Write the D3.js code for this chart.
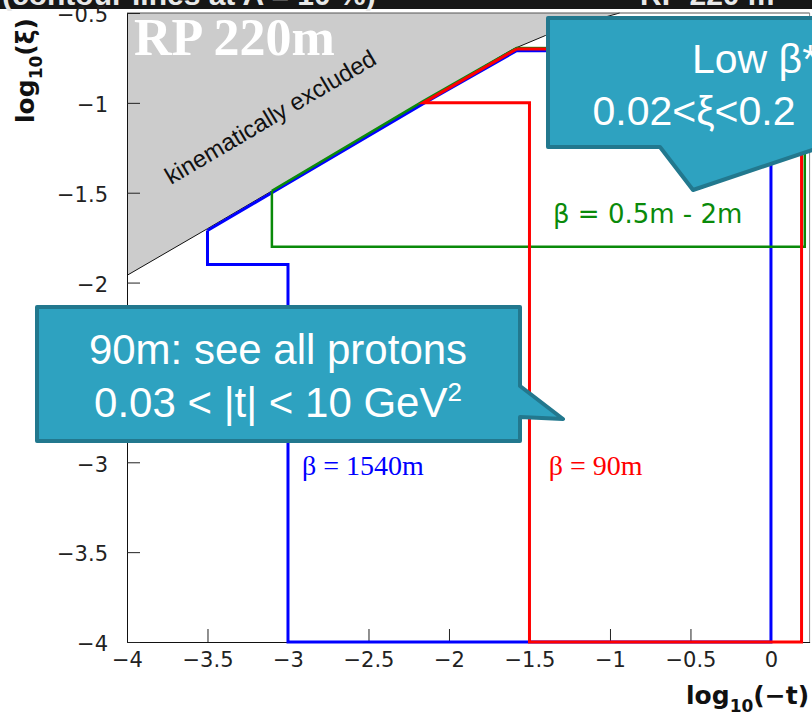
<!DOCTYPE html>
<html>
<head>
<meta charset="utf-8">
<script src="https://cdn.jsdelivr.net/npm/d3@7"></script>
<style>
  html, body { margin: 0; padding: 0; background: #fff; }
  svg { display: block; }
</style>
</head>
<body>
<svg id="chart" width="812" height="718"></svg>
<script>
// ---------- data (log10(-t) [GeV^2], log10(xi)) ----------
const xMajorTicks = [-4, -3.5, -3, -2.5, -2, -1.5, -1, -0.5, 0];
const yMajorTicks = [-4, -3.5, -3, -2.5, -2, -1.5, -1, -0.5];

// edge of the kinematically allowed region
const kinematicLimit = [[-4, -1.96], [-3.5, -1.70], [-3.1, -1.49], [-2.6, -1.23], [-2.16, -0.995],
                        [-1.6, -0.70], [-1.4, -0.625], [-1.2, -0.565], [-0.94, -0.5]];

// acceptance contours (10 %) for the three optics
const contourBeta1540 = [[-3.5, -1.71], [-3.5, -1.9], [-3.0, -1.9], [-3.0, -4.0], [0.0, -4.0],
                         [0.0, -0.71], [-1.58, -0.71], [-2.16, -1.005], [-3.1, -1.50], [-3.5, -1.71]];
const contourBeta90   = [[-1.58, -0.70], [0.19, -0.70], [0.19, -4.0], [-1.5, -4.0], [-1.5, -1.0],
                         [-2.16, -1.0], [-1.58, -0.70]];
const contourBetaLow  = [[-3.1, -1.49], [-3.1, -1.8], [0.21, -1.8], [0.21, -0.70], [-1.58, -0.695],
                         [-2.16, -0.99], [-3.1, -1.49]];

const contours = [
  { name: "beta1540", points: contourBeta1540, color: "#0000ff", width: 3 },
  { name: "betaLow",  points: contourBetaLow,  color: "#0a8a0a", width: 2.5 },
  { name: "beta90",   points: contourBeta90,   color: "#ff0000", width: 3 }
];

// ---------- layout ----------
const svg = d3.select("#chart");
const x = d3.scaleLinear().domain([-4, 0.24]).range([127, 809.6]);
const y = d3.scaleLinear().domain([-4, -0.5]).range([642, 13]);
const line = d3.line().x(d => x(d[0])).y(d => y(d[1]));

svg.append("rect").attr("width", 812).attr("height", 718).attr("fill", "#fff");

// header strip of the slide, cut at the top edge
svg.append("rect").attr("x", 0).attr("y", 0).attr("width", 812).attr("height", 9).attr("fill", "#161616");
svg.append("text").attr("x", 2).attr("y", 5)
  .attr("font-family", "Liberation Sans, Arial, sans-serif").attr("font-weight", "bold")
  .attr("font-size", 30).attr("fill", "#e8e8e8")
  .text("(contour lines at A = 10 %)");
svg.append("text").attr("x", 640).attr("y", 5)
  .attr("font-family", "Liberation Sans, Arial, sans-serif").attr("font-weight", "bold")
  .attr("font-size", 30).attr("fill", "#e8e8e8")
  .text("RP 220 m");

// kinematically excluded area
const excluded = kinematicLimit.concat([[-4, -0.5]]);
svg.append("path")
  .attr("d", line(excluded) + "Z")
  .attr("fill", "#cccccc").attr("stroke", "none");
svg.append("path")
  .attr("d", line(kinematicLimit))
  .attr("fill", "none").attr("stroke", "#111").attr("stroke-width", 1);

svg.append("text")
  .attr("transform", "translate(171,185) rotate(-30.5)")
  .attr("font-family", "Liberation Sans, Arial, sans-serif")
  .attr("font-size", 24).attr("fill", "#111")
  .text("kinematically excluded");

svg.append("text").attr("x", 134).attr("y", 55)
  .attr("font-family", "Liberation Serif, Times New Roman, serif")
  .attr("font-weight", "bold")
  .attr("font-size", 52).attr("fill", "#ffffff")
  .text("RP 220m");

// frame (top and right)
svg.append("line").attr("x1", x(-4)).attr("x2", x(0.24)).attr("y1", y(-0.5)).attr("y2", y(-0.5))
  .attr("stroke", "#555").attr("stroke-width", 1);
svg.append("line").attr("x1", x(0.24)).attr("x2", x(0.24)).attr("y1", y(-0.5)).attr("y2", y(-4))
  .attr("stroke", "#888").attr("stroke-width", 1);

// axes
const tickFont = "DejaVu Sans, Verdana, sans-serif";
const fmt = d3.format("");

const gx = svg.append("g").attr("transform", `translate(0,${y(-4)})`);
gx.call(d3.axisBottom(x).tickValues(d3.range(-40, 3).map(v => v / 10)).tickSizeInner(-7).tickSizeOuter(0).tickFormat(""));
gx.call(d3.axisBottom(x).tickValues(xMajorTicks).tickSizeInner(-13).tickSizeOuter(0).tickPadding(10).tickFormat(fmt));

const gy = svg.append("g").attr("transform", `translate(${x(-4)},0)`);
gy.call(d3.axisLeft(y).tickValues(d3.range(-40, -4).map(v => v / 10)).tickSizeInner(-7).tickSizeOuter(0).tickFormat(""));
gy.call(d3.axisLeft(y).tickValues(yMajorTicks).tickSizeInner(-13).tickSizeOuter(0).tickPadding(19).tickFormat(fmt));
gy.selectAll(".tick text").attr("dy", "0.42em");

svg.selectAll(".tick line").attr("stroke", "#222");
svg.selectAll(".domain").attr("stroke", "#111");
svg.selectAll(".tick text").attr("font-family", tickFont).attr("font-size", 21).attr("fill", "#222");

// axis titles
const titleFont = "DejaVu Sans, Verdana, sans-serif";
const xt = svg.append("text").attr("x", 686).attr("y", 704)
  .attr("font-family", titleFont).attr("font-weight", "bold").attr("font-size", 25).attr("fill", "#111");
xt.append("tspan").text("log");
xt.append("tspan").attr("font-size", 17).attr("dy", 8).text("10");
xt.append("tspan").attr("dy", -8).text("(\u2212t)");

const yt = svg.append("text").attr("transform", "translate(34,123) rotate(-90)")
  .attr("font-family", titleFont).attr("font-weight", "bold").attr("font-size", 25).attr("fill", "#111");
yt.append("tspan").text("log");
yt.append("tspan").attr("font-size", 17).attr("dy", 8).text("10");
yt.append("tspan").attr("dy", -8).text("(\u03be)");

// acceptance contours
svg.append("g").selectAll("path").data(contours).join("path")
  .attr("d", d => line(d.points))
  .attr("fill", "none")
  .attr("stroke", d => d.color)
  .attr("stroke-width", d => d.width)
  .attr("stroke-linejoin", "miter");

// contour labels
svg.append("text").attr("x", x(-2.913)).attr("y", y(-3.071))
  .attr("font-family", "Liberation Serif, Times New Roman, serif").attr("font-size", 28).attr("fill", "#0000ff")
  .text("\u03b2 = 1540m");
svg.append("text").attr("x", x(-1.38)).attr("y", y(-3.071))
  .attr("font-family", "Liberation Serif, Times New Roman, serif").attr("font-size", 28).attr("fill", "#ff0000")
  .text("\u03b2 = 90m");
svg.append("text").attr("x", 553).attr("y", 223)
  .attr("font-family", "DejaVu Sans, Verdana, sans-serif").attr("font-size", 26).attr("fill", "#0a8a0a")
  .text("\u03b2 = 0.5m - 2m");

// callouts
const calloutFill = "#2ea2c0", calloutStroke = "#22788e";
const calloutFont = "Liberation Sans, Arial, sans-serif";

const lowBetaShape = [[548, 18], [840, 18], [840, 147], [821, 147], [693, 190], [660, 147], [548, 147]];
svg.append("path").attr("d", d3.line()(lowBetaShape) + "Z")
  .attr("fill", calloutFill).attr("stroke", calloutStroke).attr("stroke-width", 4).attr("stroke-linejoin", "round");
svg.append("text").attr("x", 692).attr("y", 73)
  .attr("font-family", calloutFont).attr("font-size", 41).attr("fill", "#fff")
  .text("Low \u03b2*");
svg.append("text").attr("x", 694).attr("y", 125).attr("text-anchor", "middle")
  .attr("font-family", calloutFont).attr("font-size", 41).attr("fill", "#fff")
  .text("0.02<\u03be<0.2");

const ninetyShape = [[37, 307], [520, 307], [520, 386], [563, 419], [520, 417], [520, 441], [37, 441]];
svg.append("path").attr("d", d3.line()(ninetyShape) + "Z")
  .attr("fill", calloutFill).attr("stroke", calloutStroke).attr("stroke-width", 4).attr("stroke-linejoin", "round");
svg.append("text").attr("x", 278).attr("y", 364).attr("text-anchor", "middle")
  .attr("font-family", calloutFont).attr("font-size", 42).attr("fill", "#fff")
  .text("90m: see all protons");
const l2 = svg.append("text").attr("x", 278).attr("y", 417).attr("text-anchor", "middle")
  .attr("font-family", calloutFont).attr("font-size", 42).attr("fill", "#fff");
l2.append("tspan").text("0.03 < |t| < 10 GeV");
l2.append("tspan").attr("font-size", 26).attr("dy", -16).text("2");
</script>
</body>
</html>
